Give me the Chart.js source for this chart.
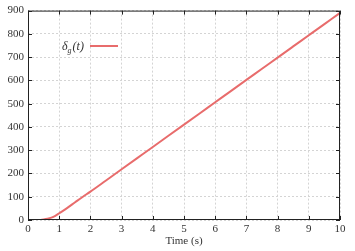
<!DOCTYPE html>
<html><head><meta charset="utf-8">
<script src="https://cdn.jsdelivr.net/npm/chart.js@4.4.1/dist/chart.umd.min.js"></script>
<style>html,body{margin:0;padding:0;background:#fff}#c{display:block}</style>
</head><body>
<div style="width:355px;height:251px"><canvas id="c" width="355" height="251"></canvas></div>
<script>
const timeValues = [0,0.25,0.4,0.5,0.625,0.75,0.875,1,1.25,1.5,1.75,2,2.5,3,3.5,4,4.5,5,5.5,6,6.5,7,7.5,8,8.5,9,9.5,10];
const deltaValues = [0,0,0.5,2,5,10,18,29,51,75,99,122,170,218,266,314,362,410,458,506,554,602,650,698,746,794,842,890];
const xTicks = [0,1,2,3,4,5,6,7,8,9,10];
const yTicks = [0,100,200,300,400,500,600,700,800,900];
const seriesLabel = 'δg(t)';
const lineColor = 'rgb(232,108,108)';
const serif = '"Liberation Serif","DejaVu Serif",serif';

const framePlugin = {
  id:'frame',
  afterDraw(chart){
    const {ctx, chartArea:a, scales:{x,y}} = chart;
    ctx.save();
    ctx.strokeStyle='#222'; ctx.lineWidth=1;
    ctx.strokeRect(a.left+0.5,a.top+0.5,a.right-a.left-1,a.bottom-a.top-1);
    ctx.beginPath();
    const L=4;
    xTicks.forEach(v=>{const px=Math.round(x.getPixelForValue(v))+0.5;
      ctx.moveTo(px,a.bottom);ctx.lineTo(px,a.bottom-L);
      ctx.moveTo(px,a.top);ctx.lineTo(px,a.top+L);});
    yTicks.forEach(v=>{const py=Math.round(y.getPixelForValue(v))+0.5;
      ctx.moveTo(a.left,py);ctx.lineTo(a.left+L,py);
      ctx.moveTo(a.right,py);ctx.lineTo(a.right-L,py);});
    ctx.stroke();
    // legend
    const lx=62, ly=46;
    ctx.fillStyle='#333';
    ctx.textBaseline='alphabetic';
    ctx.font='italic 12px '+serif;
    ctx.fillText('δ',lx,ly+4);
    let w=ctx.measureText('δ').width;
    ctx.font='italic 8px '+serif;
    ctx.fillText('g',lx+w,ly+7);
    w+=ctx.measureText('g').width+1;
    ctx.font='italic 12px '+serif;
    ctx.fillText('(t)',lx+w,ly+4);
    ctx.strokeStyle=lineColor; ctx.lineWidth=2;
    ctx.beginPath(); ctx.moveTo(90,ly); ctx.lineTo(118,ly); ctx.stroke();
    ctx.restore();
  }
};

new Chart(document.getElementById('c'),{
  type:'line',
  data:{datasets:[{label:seriesLabel,data:timeValues.map((t,i)=>({x:t,y:deltaValues[i]})),
    borderColor:lineColor,borderWidth:2,pointRadius:0,cubicInterpolationMode:'monotone',fill:false}]},
  options:{
    responsive:false,animation:false,
    layout:{padding:{top:8,right:15,left:0,bottom:3}},
    plugins:{legend:{display:false},tooltip:{enabled:false}},
    scales:{
      x:{type:'linear',min:0,max:10,
        afterBuildTicks(s){s.ticks=xTicks.map(v=>({value:v}));},
        afterFit(s){s.height=28;},
        grid:{color:'#d4d4d4',drawTicks:false,lineWidth:1},
        border:{display:false,dash:[2,2]},
        ticks:{padding:3,font:{family:serif,size:11},color:'#333',maxRotation:0},
        title:{display:true,text:'Time (s)',font:{family:serif,size:11},color:'#333',padding:{top:0,bottom:0}}},
      y:{min:0,max:900,
        afterBuildTicks(s){s.ticks=yTicks.map(v=>({value:v}));},
        afterFit(s){s.width=28;},
        grid:{color:'#d4d4d4',drawTicks:false,lineWidth:1},
        border:{display:false,dash:[2,2]},
        ticks:{padding:4,font:{family:serif,size:11},color:'#333'}}
    }
  },
  plugins:[framePlugin]
});
</script>
</body></html>
